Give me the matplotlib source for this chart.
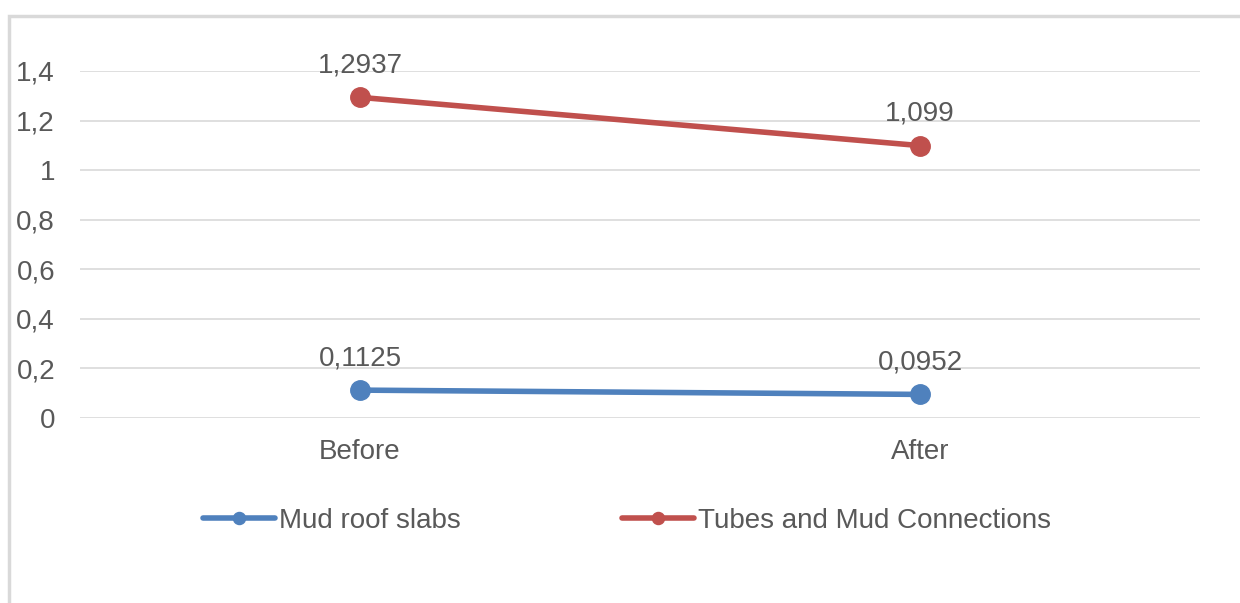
import matplotlib.pyplot as plt
from matplotlib.patches import Rectangle
from matplotlib.ticker import FuncFormatter

# data
categories = ['Before', 'After']
mud_roof = [0.1125, 0.0952]
tubes_mud = [1.2937, 1.099]
mud_labels = ['0,1125', '0,0952']
tubes_labels = ['1,2937', '1,099']

plt.rcParams['font.family'] = ['Liberation Sans', 'DejaVu Sans']
txt = '#595959'
fs = 20

W, H = 1240, 603
fig = plt.figure(figsize=(W / 100, H / 100), dpi=100)

# outer chart frame (cut off at the right and bottom)
fig.patches.append(Rectangle((9 / W, -0.1), 1.2, (H - 16) / H + 0.1,
                             transform=fig.transFigure, fill=False,
                             edgecolor='#D9D9D9', linewidth=2.5))

ax = fig.add_axes([80 / W, (H - 418) / H, 1120 / W, (418 - 71) / H])

x = [0, 1]
ax.plot(x, mud_roof, color='#4F81BD', lw=4, marker='o', ms=14,
        solid_capstyle='round', label='Mud roof slabs', zorder=3)
ax.plot(x, tubes_mud, color='#C0504D', lw=4, marker='o', ms=14,
        solid_capstyle='round', label='Tubes and Mud Connections', zorder=3)

for xi, v, s in zip(x, mud_roof, mud_labels):
    ax.annotate(s, (xi, v), xytext=(0, 23), textcoords='offset points',
                ha='center', va='center', fontsize=fs, color=txt)
for xi, v, s in zip(x, tubes_mud, tubes_labels):
    ax.annotate(s, (xi, v), xytext=(0, 23), textcoords='offset points',
                ha='center', va='center', fontsize=fs, color=txt)

ax.set_xlim(-0.5, 1.5)
ax.set_ylim(0, 1.4)
ax.set_yticks([0, 0.2, 0.4, 0.6, 0.8, 1.0, 1.2, 1.4])
ax.yaxis.set_major_formatter(FuncFormatter(lambda v, p: f'{v:g}'.replace('.', ',')))
ax.set_xticks(x)
ax.set_xticklabels(categories)
ax.tick_params(axis='both', length=0, labelsize=fs, labelcolor=txt)
ax.tick_params(axis='y', pad=18)
ax.tick_params(axis='x', pad=15)
ax.grid(axis='y', color='#D9D9D9', lw=1.2)
ax.set_axisbelow(True)
for sp in ax.spines.values():
    sp.set_visible(False)

fig.legend(loc='center', bbox_to_anchor=(627 / W, (H - 521) / H), ncol=2,
           frameon=False, fontsize=fs, labelcolor=txt, handlelength=2.6,
           handletextpad=0.15, columnspacing=5.8, markerscale=0.62)

fig.savefig('out.png', dpi=100, facecolor='white')
